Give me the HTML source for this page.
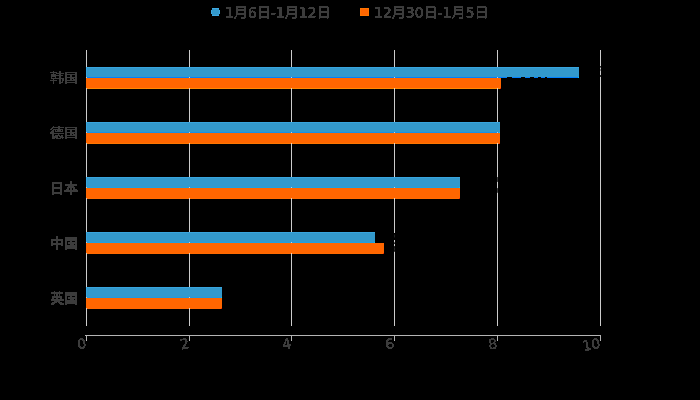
<!DOCTYPE html>
<html><head><meta charset="utf-8"><title>chart</title>
<style>
html,body{margin:0;padding:0;background:#000;}
body{width:700px;height:400px;position:relative;overflow:hidden;font-family:"Liberation Sans",sans-serif;}
.r{position:absolute;}
.t{position:absolute;font-size:14px;line-height:16px;white-space:nowrap;color:transparent;}
svg{position:absolute;left:0;top:0;}
</style></head><body>
<div class="r" style="left:86px;top:50px;width:1px;height:276px;background:#cccccc"></div>
<div class="r" style="left:189px;top:50px;width:1px;height:276px;background:#cccccc"></div>
<div class="r" style="left:291px;top:50px;width:1px;height:276px;background:#cccccc"></div>
<div class="r" style="left:394px;top:50px;width:1px;height:276px;background:#cccccc"></div>
<div class="r" style="left:497px;top:50px;width:1px;height:276px;background:#cccccc"></div>
<div class="r" style="left:600px;top:50px;width:1px;height:276px;background:#cccccc"></div>
<div class="r" style="left:86px;top:67px;width:493px;height:10px;background:#3399cc"></div>
<div class="r" style="left:86px;top:67px;width:493px;height:1px;background:#38a5de"></div>
<div class="r" style="left:86px;top:67px;width:1px;height:10px;background:#38a5de"></div>
<div class="r" style="left:87px;top:77px;width:492px;height:1px;background:#0080ff"></div>
<div class="r" style="left:578px;top:77px;width:1px;height:1px;background:#10c8f0"></div>
<div class="r" style="left:86px;top:78px;width:415px;height:10px;background:#ff6600"></div>
<div class="r" style="left:87px;top:88px;width:414px;height:1px;background:#ff8800"></div>
<div class="r" style="left:500px;top:88px;width:1px;height:1px;background:#f02000"></div>
<div class="r" style="left:189px;top:77px;width:1px;height:1px;background:#b8d4f0"></div>
<div class="r" style="left:189px;top:88px;width:1px;height:1px;background:#e8d4c0"></div>
<div class="r" style="left:291px;top:77px;width:1px;height:1px;background:#b8d4f0"></div>
<div class="r" style="left:291px;top:88px;width:1px;height:1px;background:#e8d4c0"></div>
<div class="r" style="left:394px;top:77px;width:1px;height:1px;background:#b8d4f0"></div>
<div class="r" style="left:394px;top:88px;width:1px;height:1px;background:#e8d4c0"></div>
<div class="r" style="left:497px;top:77px;width:1px;height:1px;background:#b8d4f0"></div>
<div class="r" style="left:497px;top:88px;width:1px;height:1px;background:#e8d4c0"></div>
<div class="r" style="left:86px;top:122px;width:414px;height:10px;background:#3399cc"></div>
<div class="r" style="left:86px;top:122px;width:414px;height:1px;background:#38a5de"></div>
<div class="r" style="left:86px;top:122px;width:1px;height:10px;background:#38a5de"></div>
<div class="r" style="left:87px;top:132px;width:413px;height:1px;background:#1890e8"></div>
<div class="r" style="left:499px;top:132px;width:1px;height:1px;background:#10c8f0"></div>
<div class="r" style="left:86px;top:133px;width:414px;height:10px;background:#ff6600"></div>
<div class="r" style="left:87px;top:143px;width:413px;height:1px;background:#ff7600"></div>
<div class="r" style="left:499px;top:143px;width:1px;height:1px;background:#f02000"></div>
<div class="r" style="left:189px;top:132px;width:1px;height:1px;background:#b8d4f0"></div>
<div class="r" style="left:189px;top:143px;width:1px;height:1px;background:#e8d4c0"></div>
<div class="r" style="left:291px;top:132px;width:1px;height:1px;background:#b8d4f0"></div>
<div class="r" style="left:291px;top:143px;width:1px;height:1px;background:#e8d4c0"></div>
<div class="r" style="left:394px;top:132px;width:1px;height:1px;background:#b8d4f0"></div>
<div class="r" style="left:394px;top:143px;width:1px;height:1px;background:#e8d4c0"></div>
<div class="r" style="left:497px;top:132px;width:1px;height:1px;background:#b8d4f0"></div>
<div class="r" style="left:497px;top:143px;width:1px;height:1px;background:#e8d4c0"></div>
<div class="r" style="left:86px;top:177px;width:374px;height:10px;background:#3399cc"></div>
<div class="r" style="left:86px;top:177px;width:374px;height:1px;background:#38a5de"></div>
<div class="r" style="left:86px;top:177px;width:1px;height:10px;background:#38a5de"></div>
<div class="r" style="left:87px;top:187px;width:373px;height:1px;background:#1ea0e0"></div>
<div class="r" style="left:459px;top:187px;width:1px;height:1px;background:#10c8f0"></div>
<div class="r" style="left:86px;top:188px;width:374px;height:10px;background:#ff6600"></div>
<div class="r" style="left:87px;top:198px;width:373px;height:1px;background:#ff6c00"></div>
<div class="r" style="left:459px;top:198px;width:1px;height:1px;background:#f02000"></div>
<div class="r" style="left:189px;top:187px;width:1px;height:1px;background:#b8d4f0"></div>
<div class="r" style="left:189px;top:198px;width:1px;height:1px;background:#e8d4c0"></div>
<div class="r" style="left:291px;top:187px;width:1px;height:1px;background:#b8d4f0"></div>
<div class="r" style="left:291px;top:198px;width:1px;height:1px;background:#e8d4c0"></div>
<div class="r" style="left:394px;top:187px;width:1px;height:1px;background:#b8d4f0"></div>
<div class="r" style="left:394px;top:198px;width:1px;height:1px;background:#e8d4c0"></div>
<div class="r" style="left:86px;top:232px;width:289px;height:10px;background:#3399cc"></div>
<div class="r" style="left:86px;top:232px;width:289px;height:1px;background:#38a5de"></div>
<div class="r" style="left:86px;top:232px;width:1px;height:10px;background:#38a5de"></div>
<div class="r" style="left:87px;top:242px;width:288px;height:1px;background:#20a0e0"></div>
<div class="r" style="left:374px;top:242px;width:1px;height:1px;background:#10c8f0"></div>
<div class="r" style="left:86px;top:243px;width:298px;height:10px;background:#ff6600"></div>
<div class="r" style="left:87px;top:253px;width:297px;height:1px;background:#ff6a00"></div>
<div class="r" style="left:383px;top:253px;width:1px;height:1px;background:#f02000"></div>
<div class="r" style="left:189px;top:242px;width:1px;height:1px;background:#b8d4f0"></div>
<div class="r" style="left:189px;top:253px;width:1px;height:1px;background:#e8d4c0"></div>
<div class="r" style="left:291px;top:242px;width:1px;height:1px;background:#b8d4f0"></div>
<div class="r" style="left:291px;top:253px;width:1px;height:1px;background:#e8d4c0"></div>
<div class="r" style="left:86px;top:287px;width:136px;height:10px;background:#3399cc"></div>
<div class="r" style="left:86px;top:287px;width:136px;height:1px;background:#38a5de"></div>
<div class="r" style="left:86px;top:287px;width:1px;height:10px;background:#38a5de"></div>
<div class="r" style="left:87px;top:297px;width:135px;height:1px;background:#2098e0"></div>
<div class="r" style="left:221px;top:297px;width:1px;height:1px;background:#10c8f0"></div>
<div class="r" style="left:86px;top:298px;width:136px;height:10px;background:#ff6600"></div>
<div class="r" style="left:87px;top:308px;width:135px;height:1px;background:#ff6800"></div>
<div class="r" style="left:221px;top:308px;width:1px;height:1px;background:#f02000"></div>
<div class="r" style="left:189px;top:297px;width:1px;height:1px;background:#b8d4f0"></div>
<div class="r" style="left:189px;top:308px;width:1px;height:1px;background:#e8d4c0"></div>
<div class="r" style="left:507px;top:77px;width:5px;height:1px;background:#000"></div>
<div class="r" style="left:521px;top:77px;width:4px;height:1px;background:#000"></div>
<div class="r" style="left:530px;top:77px;width:4px;height:1px;background:#000"></div>
<div class="r" style="left:538px;top:77px;width:3px;height:1px;background:#000"></div>
<div class="r" style="left:545px;top:77px;width:2px;height:1px;background:#000"></div>
<div class="r" style="left:600px;top:66px;width:1px;height:1px;background:#2a2a2a"></div>
<div class="r" style="left:600px;top:67px;width:1px;height:1px;background:#6a6a6a"></div>
<div class="r" style="left:600px;top:69px;width:1px;height:1px;background:#808080"></div>
<div class="r" style="left:600px;top:70px;width:1px;height:1px;background:#808080"></div>
<div class="r" style="left:600px;top:75px;width:1px;height:1px;background:#303030"></div>
<div class="r" style="left:600px;top:76px;width:1px;height:1px;background:#303030"></div>
<div class="r" style="left:497px;top:177px;width:1px;height:1px;background:#404040"></div>
<div class="r" style="left:497px;top:178px;width:1px;height:1px;background:#383838"></div>
<div class="r" style="left:497px;top:179px;width:1px;height:1px;background:#383838"></div>
<div class="r" style="left:497px;top:180px;width:1px;height:1px;background:#383838"></div>
<div class="r" style="left:497px;top:181px;width:1px;height:1px;background:#484848"></div>
<div class="r" style="left:497px;top:188px;width:1px;height:1px;background:#484848"></div>
<div class="r" style="left:497px;top:189px;width:1px;height:1px;background:#383838"></div>
<div class="r" style="left:497px;top:190px;width:1px;height:1px;background:#383838"></div>
<div class="r" style="left:497px;top:191px;width:1px;height:1px;background:#383838"></div>
<div class="r" style="left:497px;top:192px;width:1px;height:1px;background:#585858"></div>
<div class="r" style="left:394px;top:233px;width:1px;height:1px;background:#000"></div>
<div class="r" style="left:394px;top:234px;width:1px;height:1px;background:#101010"></div>
<div class="r" style="left:394px;top:235px;width:1px;height:1px;background:#222"></div>
<div class="r" style="left:394px;top:236px;width:1px;height:1px;background:#222"></div>
<div class="r" style="left:394px;top:237px;width:1px;height:1px;background:#101010"></div>
<div class="r" style="left:394px;top:238px;width:1px;height:1px;background:#000"></div>
<div class="r" style="left:394px;top:239px;width:1px;height:1px;background:#000"></div>
<div class="r" style="left:394px;top:242px;width:1px;height:1px;background:#606060"></div>
<div class="r" style="left:394px;top:243px;width:1px;height:1px;background:#282828"></div>
<div class="r" style="left:394px;top:246px;width:1px;height:1px;background:#2a2a2a"></div>
<div class="r" style="left:394px;top:247px;width:1px;height:1px;background:#181818"></div>
<div class="r" style="left:394px;top:248px;width:1px;height:1px;background:#2a2a2a"></div>
<div class="r" style="left:394px;top:249px;width:1px;height:1px;background:#2a2a2a"></div>
<div class="r" style="left:394px;top:250px;width:1px;height:1px;background:#181818"></div>
<div class="r" style="left:394px;top:251px;width:1px;height:1px;background:#404040"></div>
<div class="r" style="left:85px;top:335px;width:516px;height:1px;background:#b4b4b4"></div>
<div class="r" style="left:86px;top:335px;width:1px;height:6px;background:#b4b4b4"></div>
<div class="r" style="left:189px;top:335px;width:1px;height:6px;background:#b4b4b4"></div>
<div class="r" style="left:291px;top:335px;width:1px;height:6px;background:#b4b4b4"></div>
<div class="r" style="left:394px;top:335px;width:1px;height:6px;background:#b4b4b4"></div>
<div class="r" style="left:497px;top:335px;width:1px;height:6px;background:#b4b4b4"></div>
<div class="r" style="left:600px;top:335px;width:1px;height:6px;background:#b4b4b4"></div>
<div class="r" style="left:212px;top:8px;width:7px;height:8px;background:#3fa8e0"></div>
<div class="r" style="left:211px;top:10px;width:9px;height:4px;background:#3fa8e0"></div>
<div class="r" style="left:212px;top:9px;width:7px;height:6px;background:#3399cc"></div>
<div class="r" style="left:212px;top:10px;width:7px;height:4px;background:#3399cc"></div>
<div class="r" style="left:360px;top:8px;width:9px;height:8px;background:#ff7400"></div>
<div class="r" style="left:361px;top:9px;width:7px;height:6px;background:#ff6600"></div>
<div class="t" style="left:225px;top:4px;">1月6日-1月12日</div>
<div class="t" style="left:374px;top:4px;">12月30日-1月5日</div>
<div class="t" style="left:36px;top:70px;width:42px;text-align:right;">韩国</div>
<div class="t" style="left:36px;top:125px;width:42px;text-align:right;">德国</div>
<div class="t" style="left:36px;top:180px;width:42px;text-align:right;">日本</div>
<div class="t" style="left:36px;top:235px;width:42px;text-align:right;">中国</div>
<div class="t" style="left:36px;top:290px;width:42px;text-align:right;">英国</div>
<div class="t" style="left:56px;top:336px;width:30px;text-align:right;transform:rotate(-10deg);transform-origin:100% 100%;">0</div>
<div class="t" style="left:159px;top:336px;width:30px;text-align:right;transform:rotate(-10deg);transform-origin:100% 100%;">2</div>
<div class="t" style="left:261px;top:336px;width:30px;text-align:right;transform:rotate(-10deg);transform-origin:100% 100%;">4</div>
<div class="t" style="left:364px;top:336px;width:30px;text-align:right;transform:rotate(-10deg);transform-origin:100% 100%;">6</div>
<div class="t" style="left:467px;top:336px;width:30px;text-align:right;transform:rotate(-10deg);transform-origin:100% 100%;">8</div>
<div class="t" style="left:570px;top:336px;width:30px;text-align:right;transform:rotate(-10deg);transform-origin:100% 100%;">10</div>
<svg width="700" height="400" viewBox="0 0 700 400" shape-rendering="crispEdges"><path fill="#3c3c3c" d="M236 6h10v1h-10zM259 6h10v1h-10zM287 6h10v1h-10zM319 6h9v1h-9zM394 6h10v1h-10zM426 6h9v1h-9zM454 6h9v1h-9zM477 6h9v1h-9zM226 7h5v1h-5zM236 7h10v1h-10zM251 7h5v1h-5zM259 7h10v1h-10zM277 7h5v1h-5zM287 7h10v1h-10zM300 7h4v1h-4zM309 7h5v1h-5zM319 7h10v1h-10zM375 7h5v1h-5zM384 7h5v1h-5zM394 7h10v1h-10zM407 7h6v1h-6zM417 7h4v1h-4zM426 7h10v1h-10zM444 7h4v1h-4zM454 7h9v1h-9zM467 7h6v1h-6zM477 7h10v1h-10zM226 8h5v1h-5zM236 8h2v1h-2zM244 8h2v1h-2zM250 8h6v1h-6zM259 8h2v1h-2zM267 8h2v1h-2zM277 8h5v1h-5zM287 8h2v1h-2zM295 8h2v1h-2zM300 8h5v1h-5zM308 8h7v1h-7zM319 8h2v1h-2zM327 8h2v1h-2zM375 8h5v1h-5zM384 8h6v1h-6zM394 8h2v1h-2zM402 8h2v1h-2zM407 8h6v1h-6zM416 8h6v1h-6zM426 8h2v1h-2zM434 8h2v1h-2zM444 8h4v1h-4zM454 8h2v1h-2zM462 8h1v1h-1zM467 8h6v1h-6zM477 8h1v1h-1zM485 8h2v1h-2zM229 9h2v1h-2zM236 9h10v1h-10zM249 9h2v1h-2zM259 9h2v1h-2zM267 9h2v1h-2zM279 9h3v1h-3zM287 9h10v1h-10zM302 9h3v1h-3zM313 9h2v1h-2zM319 9h2v1h-2zM327 9h2v1h-2zM378 9h2v1h-2zM388 9h3v1h-3zM394 9h10v1h-10zM411 9h3v1h-3zM416 9h2v1h-2zM420 9h3v1h-3zM426 9h2v1h-2zM434 9h2v1h-2zM446 9h2v1h-2zM454 9h9v1h-9zM467 9h2v1h-2zM477 9h1v1h-1zM485 9h2v1h-2zM229 10h2v1h-2zM236 10h10v1h-10zM249 10h2v1h-2zM252 10h1v1h-1zM259 10h2v1h-2zM267 10h2v1h-2zM279 10h3v1h-3zM287 10h10v1h-10zM302 10h3v1h-3zM313 10h2v1h-2zM319 10h2v1h-2zM327 10h2v1h-2zM378 10h2v1h-2zM388 10h3v1h-3zM394 10h10v1h-10zM411 10h3v1h-3zM415 10h3v1h-3zM421 10h2v1h-2zM426 10h2v1h-2zM434 10h2v1h-2zM446 10h2v1h-2zM454 10h9v1h-9zM467 10h4v1h-4zM477 10h1v1h-1zM485 10h2v1h-2zM229 11h2v1h-2zM236 11h2v1h-2zM244 11h2v1h-2zM249 11h6v1h-6zM259 11h10v1h-10zM279 11h3v1h-3zM287 11h2v1h-2zM295 11h2v1h-2zM302 11h3v1h-3zM313 11h2v1h-2zM319 11h10v1h-10zM378 11h2v1h-2zM388 11h2v1h-2zM394 11h2v1h-2zM402 11h2v1h-2zM408 11h5v1h-5zM415 11h2v1h-2zM421 11h2v1h-2zM426 11h10v1h-10zM446 11h2v1h-2zM454 11h2v1h-2zM462 11h1v1h-1zM467 11h6v1h-6zM477 11h10v1h-10zM229 12h2v1h-2zM236 12h2v1h-2zM244 12h2v1h-2zM249 12h3v1h-3zM253 12h3v1h-3zM259 12h10v1h-10zM279 12h3v1h-3zM287 12h2v1h-2zM295 12h2v1h-2zM302 12h3v1h-3zM312 12h3v1h-3zM319 12h10v1h-10zM378 12h2v1h-2zM387 12h3v1h-3zM394 12h2v1h-2zM402 12h2v1h-2zM408 12h5v1h-5zM415 12h2v1h-2zM421 12h2v1h-2zM426 12h10v1h-10zM446 12h2v1h-2zM454 12h2v1h-2zM462 12h1v1h-1zM467 12h1v1h-1zM470 12h3v1h-3zM477 12h10v1h-10zM229 13h2v1h-2zM236 13h10v1h-10zM249 13h2v1h-2zM254 13h2v1h-2zM259 13h2v1h-2zM267 13h2v1h-2zM271 13h5v1h-5zM279 13h3v1h-3zM287 13h10v1h-10zM302 13h3v1h-3zM311 13h3v1h-3zM319 13h2v1h-2zM327 13h2v1h-2zM378 13h2v1h-2zM386 13h3v1h-3zM394 13h10v1h-10zM411 13h3v1h-3zM415 13h2v1h-2zM421 13h2v1h-2zM426 13h2v1h-2zM434 13h2v1h-2zM438 13h4v1h-4zM446 13h2v1h-2zM454 13h9v1h-9zM471 13h3v1h-3zM477 13h1v1h-1zM485 13h2v1h-2zM229 14h2v1h-2zM236 14h10v1h-10zM249 14h2v1h-2zM254 14h2v1h-2zM259 14h2v1h-2zM267 14h2v1h-2zM271 14h4v1h-4zM279 14h3v1h-3zM287 14h10v1h-10zM302 14h3v1h-3zM310 14h3v1h-3zM319 14h2v1h-2zM327 14h2v1h-2zM378 14h2v1h-2zM385 14h3v1h-3zM394 14h10v1h-10zM412 14h2v1h-2zM415 14h3v1h-3zM421 14h2v1h-2zM426 14h2v1h-2zM434 14h2v1h-2zM438 14h4v1h-4zM446 14h2v1h-2zM454 14h9v1h-9zM471 14h3v1h-3zM477 14h1v1h-1zM485 14h2v1h-2zM229 15h2v1h-2zM236 15h1v1h-1zM244 15h2v1h-2zM249 15h2v1h-2zM254 15h2v1h-2zM259 15h2v1h-2zM267 15h2v1h-2zM279 15h3v1h-3zM286 15h2v1h-2zM295 15h2v1h-2zM302 15h3v1h-3zM309 15h3v1h-3zM319 15h2v1h-2zM327 15h2v1h-2zM378 15h2v1h-2zM384 15h3v1h-3zM393 15h2v1h-2zM402 15h2v1h-2zM411 15h3v1h-3zM416 15h2v1h-2zM420 15h3v1h-3zM426 15h2v1h-2zM434 15h2v1h-2zM446 15h2v1h-2zM453 15h2v1h-2zM462 15h1v1h-1zM471 15h2v1h-2zM477 15h1v1h-1zM485 15h2v1h-2zM226 16h7v1h-7zM235 16h2v1h-2zM244 16h2v1h-2zM249 16h7v1h-7zM259 16h10v1h-10zM277 16h7v1h-7zM286 16h2v1h-2zM295 16h2v1h-2zM300 16h7v1h-7zM308 16h8v1h-8zM319 16h10v1h-10zM375 16h7v1h-7zM384 16h7v1h-7zM393 16h2v1h-2zM402 16h2v1h-2zM406 16h7v1h-7zM416 16h6v1h-6zM426 16h10v1h-10zM444 16h7v1h-7zM453 16h2v1h-2zM462 16h1v1h-1zM466 16h7v1h-7zM477 16h10v1h-10zM226 17h7v1h-7zM234 17h2v1h-2zM241 17h5v1h-5zM250 17h5v1h-5zM259 17h10v1h-10zM277 17h7v1h-7zM285 17h2v1h-2zM292 17h5v1h-5zM300 17h7v1h-7zM308 17h7v1h-7zM319 17h10v1h-10zM375 17h7v1h-7zM384 17h7v1h-7zM392 17h2v1h-2zM399 17h5v1h-5zM407 17h5v1h-5zM417 17h4v1h-4zM426 17h10v1h-10zM444 17h7v1h-7zM452 17h2v1h-2zM459 17h4v1h-4zM467 17h5v1h-5zM477 17h10v1h-10zM234 18h2v1h-2zM241 18h4v1h-4zM259 18h2v1h-2zM267 18h2v1h-2zM285 18h2v1h-2zM292 18h4v1h-4zM319 18h1v1h-1zM327 18h1v1h-1zM392 18h2v1h-2zM399 18h4v1h-4zM426 18h1v1h-1zM434 18h2v1h-2zM452 18h1v1h-1zM459 18h4v1h-4zM477 18h1v1h-1zM485 18h1v1h-1zM53 71h1v1h-1zM59 71h2v1h-2zM50 72h7v1h-7zM59 72h2v1h-2zM65 72h12v1h-12zM53 73h1v1h-1zM56 73h8v1h-8zM65 73h2v1h-2zM75 73h2v1h-2zM51 74h5v1h-5zM59 74h2v1h-2zM65 74h12v1h-12zM51 75h12v1h-12zM65 75h2v1h-2zM70 75h2v1h-2zM75 75h2v1h-2zM51 76h5v1h-5zM59 76h2v1h-2zM65 76h2v1h-2zM70 76h2v1h-2zM75 76h2v1h-2zM51 77h1v1h-1zM55 77h1v1h-1zM59 77h2v1h-2zM65 77h12v1h-12zM51 78h13v1h-13zM65 78h2v1h-2zM70 78h4v1h-4zM75 78h2v1h-2zM53 79h1v1h-1zM59 79h2v1h-2zM62 79h2v1h-2zM65 79h2v1h-2zM70 79h2v1h-2zM73 79h4v1h-4zM50 80h7v1h-7zM59 80h2v1h-2zM62 80h2v1h-2zM65 80h12v1h-12zM53 81h1v1h-1zM59 81h2v1h-2zM62 81h1v1h-1zM65 81h2v1h-2zM75 81h2v1h-2zM53 82h1v1h-1zM59 82h4v1h-4zM65 82h12v1h-12zM53 83h1v1h-1zM59 83h2v1h-2zM65 83h2v1h-2zM75 83h2v1h-2zM53 126h1v1h-1zM58 126h2v1h-2zM52 127h12v1h-12zM65 127h12v1h-12zM51 128h2v1h-2zM58 128h2v1h-2zM65 128h2v1h-2zM75 128h2v1h-2zM50 129h2v1h-2zM53 129h10v1h-10zM65 129h12v1h-12zM52 130h2v1h-2zM55 130h1v1h-1zM57 130h4v1h-4zM62 130h1v1h-1zM65 130h2v1h-2zM70 130h2v1h-2zM75 130h2v1h-2zM51 131h3v1h-3zM55 131h8v1h-8zM65 131h2v1h-2zM70 131h2v1h-2zM75 131h2v1h-2zM50 132h4v1h-4zM65 132h12v1h-12zM50 133h14v1h-14zM65 133h2v1h-2zM70 133h4v1h-4zM75 133h2v1h-2zM52 134h2v1h-2zM58 134h1v1h-1zM65 134h2v1h-2zM70 134h2v1h-2zM73 134h4v1h-4zM52 135h2v1h-2zM55 135h5v1h-5zM61 135h2v1h-2zM65 135h12v1h-12zM52 136h6v1h-6zM59 136h4v1h-4zM65 136h2v1h-2zM75 136h2v1h-2zM52 137h6v1h-6zM60 137h4v1h-4zM65 137h12v1h-12zM52 138h3v1h-3zM56 138h5v1h-5zM62 138h1v1h-1zM65 138h2v1h-2zM75 138h2v1h-2zM70 181h2v1h-2zM52 182h10v1h-10zM70 182h2v1h-2zM52 183h10v1h-10zM70 183h2v1h-2zM52 184h2v1h-2zM60 184h2v1h-2zM65 184h12v1h-12zM52 185h2v1h-2zM60 185h2v1h-2zM65 185h12v1h-12zM52 186h2v1h-2zM60 186h2v1h-2zM68 186h6v1h-6zM52 187h10v1h-10zM67 187h8v1h-8zM52 188h10v1h-10zM67 188h2v1h-2zM70 188h2v1h-2zM73 188h2v1h-2zM52 189h2v1h-2zM60 189h2v1h-2zM66 189h3v1h-3zM70 189h2v1h-2zM73 189h4v1h-4zM52 190h2v1h-2zM60 190h2v1h-2zM64 190h14v1h-14zM52 191h2v1h-2zM60 191h2v1h-2zM64 191h14v1h-14zM52 192h10v1h-10zM70 192h2v1h-2zM52 193h10v1h-10zM70 193h2v1h-2zM52 194h2v1h-2zM60 194h2v1h-2zM70 194h2v1h-2zM56 236h2v1h-2zM56 237h2v1h-2zM65 237h12v1h-12zM56 238h2v1h-2zM65 238h12v1h-12zM51 239h12v1h-12zM65 239h12v1h-12zM51 240h12v1h-12zM65 240h12v1h-12zM51 241h2v1h-2zM56 241h2v1h-2zM61 241h2v1h-2zM65 241h2v1h-2zM70 241h2v1h-2zM75 241h2v1h-2zM51 242h2v1h-2zM56 242h2v1h-2zM61 242h2v1h-2zM65 242h2v1h-2zM68 242h9v1h-9zM51 243h12v1h-12zM65 243h2v1h-2zM68 243h9v1h-9zM51 244h12v1h-12zM65 244h2v1h-2zM70 244h4v1h-4zM75 244h2v1h-2zM51 245h2v1h-2zM56 245h2v1h-2zM61 245h2v1h-2zM65 245h12v1h-12zM56 246h2v1h-2zM65 246h12v1h-12zM56 247h2v1h-2zM65 247h12v1h-12zM56 248h2v1h-2zM65 248h12v1h-12zM56 249h2v1h-2zM65 249h2v1h-2zM75 249h2v1h-2zM54 291h1v1h-1zM59 291h1v1h-1zM51 292h12v1h-12zM65 292h12v1h-12zM51 293h12v1h-12zM65 293h12v1h-12zM54 294h1v1h-1zM56 294h2v1h-2zM59 294h1v1h-1zM65 294h12v1h-12zM54 295h1v1h-1zM56 295h2v1h-2zM59 295h1v1h-1zM65 295h12v1h-12zM52 296h10v1h-10zM65 296h2v1h-2zM70 296h2v1h-2zM75 296h2v1h-2zM52 297h10v1h-10zM65 297h2v1h-2zM68 297h9v1h-9zM52 298h2v1h-2zM56 298h2v1h-2zM60 298h2v1h-2zM65 298h2v1h-2zM68 298h9v1h-9zM51 299h13v1h-13zM65 299h2v1h-2zM70 299h4v1h-4zM75 299h2v1h-2zM51 300h13v1h-13zM65 300h12v1h-12zM54 301h6v1h-6zM65 301h12v1h-12zM52 302h5v1h-5zM58 302h4v1h-4zM65 302h12v1h-12zM51 303h4v1h-4zM59 303h5v1h-5zM65 303h12v1h-12zM51 304h3v1h-3zM60 304h4v1h-4zM65 304h2v1h-2zM75 304h2v1h-2zM80 338h3v1h-3zM183 338h3v1h-3zM286 338h2v1h-2zM388 338h4v1h-4zM491 338h3v1h-3zM594 338h3v1h-3zM79 339h5v1h-5zM180 339h7v1h-7zM285 339h3v1h-3zM387 339h5v1h-5zM489 339h6v1h-6zM593 339h5v1h-5zM78 340h2v1h-2zM82 340h3v1h-3zM180 340h2v1h-2zM185 340h2v1h-2zM285 340h4v1h-4zM386 340h3v1h-3zM489 340h2v1h-2zM494 340h2v1h-2zM584 340h3v1h-3zM592 340h2v1h-2zM596 340h3v1h-3zM78 341h2v1h-2zM83 341h2v1h-2zM185 341h3v1h-3zM285 341h1v1h-1zM287 341h2v1h-2zM386 341h2v1h-2zM489 341h2v1h-2zM494 341h2v1h-2zM583 341h4v1h-4zM592 341h2v1h-2zM597 341h2v1h-2zM78 342h2v1h-2zM83 342h2v1h-2zM185 342h2v1h-2zM284 342h2v1h-2zM287 342h2v1h-2zM386 342h6v1h-6zM489 342h2v1h-2zM493 342h2v1h-2zM583 342h1v1h-1zM586 342h2v1h-2zM592 342h2v1h-2zM597 342h2v1h-2zM78 343h2v1h-2zM83 343h2v1h-2zM185 343h2v1h-2zM284 343h2v1h-2zM287 343h2v1h-2zM386 343h7v1h-7zM490 343h6v1h-6zM586 343h2v1h-2zM592 343h2v1h-2zM597 343h2v1h-2zM78 344h2v1h-2zM84 344h2v1h-2zM184 344h2v1h-2zM283 344h2v1h-2zM287 344h4v1h-4zM386 344h3v1h-3zM392 344h2v1h-2zM490 344h2v1h-2zM494 344h2v1h-2zM586 344h2v1h-2zM592 344h2v1h-2zM598 344h2v1h-2zM78 345h2v1h-2zM84 345h2v1h-2zM183 345h3v1h-3zM283 345h8v1h-8zM386 345h2v1h-2zM392 345h2v1h-2zM489 345h2v1h-2zM495 345h2v1h-2zM586 345h2v1h-2zM592 345h2v1h-2zM598 345h2v1h-2zM78 346h3v1h-3zM83 346h2v1h-2zM183 346h2v1h-2zM283 346h7v1h-7zM386 346h3v1h-3zM392 346h2v1h-2zM489 346h2v1h-2zM495 346h2v1h-2zM586 346h2v1h-2zM592 346h3v1h-3zM597 346h2v1h-2zM79 347h6v1h-6zM182 347h7v1h-7zM288 347h2v1h-2zM387 347h6v1h-6zM490 347h2v1h-2zM493 347h3v1h-3zM586 347h3v1h-3zM593 347h6v1h-6zM80 348h4v1h-4zM182 348h6v1h-6zM288 348h2v1h-2zM388 348h4v1h-4zM490 348h6v1h-6zM587 348h4v1h-4zM594 348h4v1h-4zM182 349h1v1h-1zM585 349h6v1h-6zM585 350h4v1h-4z"/></svg>
</body></html>
